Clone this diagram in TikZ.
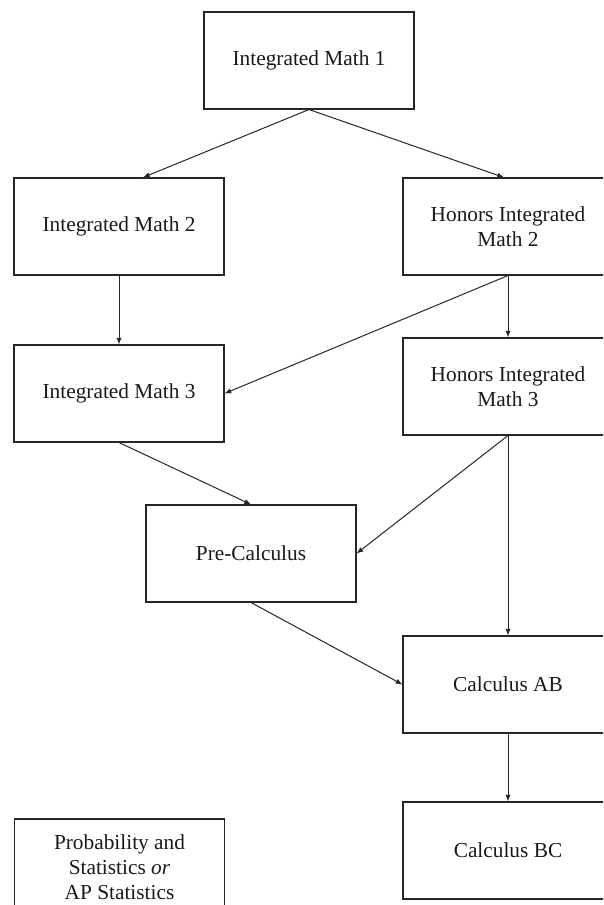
\documentclass[tikz,border=0pt]{standalone}
\usepackage{fontspec}
\setmainfont{Liberation Serif}
\usetikzlibrary{arrows.meta}
\begin{document}
\begin{tikzpicture}[x=0.75pt,y=-0.75pt,
  box/.style={draw=black!85, line width=0.8pt, minimum width=157.5pt, minimum height=72.75pt,
    inner sep=0pt, align=center, font=\fontsize{16}{18.75}\selectfont, text=black!90},
  conn/.style={draw=black!85, line width=0.75pt, -{Latex[length=5pt,width=4pt]}}]
\useasboundingbox (0,0) rectangle (603,905);
\clip (0,0) rectangle (603,905);
\node[box] (im1) at (309,60.5) {Integrated Math 1};
\node[box] (im2) at (119,226.5) {Integrated Math 2};
\node[box] (him2) at (508,226.5) {Honors Integrated\\Math 2};
\node[box] (im3) at (119,393.5) {Integrated Math 3};
\node[box] (him3) at (508,386.5) {Honors Integrated\\Math 3};
\node[box] (pre) at (251,553.5) {Pre-Calculus};
\node[box] (cab) at (508,684.5) {Calculus AB};
\node[box] (cbc) at (508,850.5) {Calculus BC};
\node[box] (prob) at (119.5,867.5) {Probability and\\Statistics \textit{or}\\AP Statistics};
\draw[conn] (im1.south) -- ([xshift=18pt]im2.north);
\draw[conn] (im1.south) -- ([xshift=-3pt]him2.north);
\draw[conn] (im2.south) -- (im3.north);
\draw[conn] (him2.south) -- (im3.east);
\draw[conn] (him2.south) -- (him3.north);
\draw[conn] (im3.south) -- (pre.north);
\draw[conn] (him3.south) -- (pre.east);
\draw[conn] (him3.south) -- (cab.north);
\draw[conn] (pre.south) -- (cab.west);
\draw[conn] (cab.south) -- (cbc.north);
\end{tikzpicture}
\end{document}
